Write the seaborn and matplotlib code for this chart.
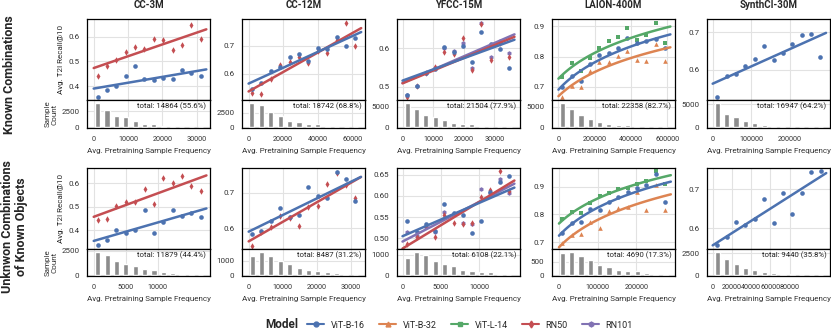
import matplotlib
matplotlib.use("Agg")
import matplotlib.pyplot as plt
from matplotlib.lines import Line2D
import numpy as np
import pandas as pd
import seaborn as sns

sns.set_style("whitegrid")
plt.rcParams['font.family'] = ['Roboto', 'DejaVu Sans']

datasets = ["CC-3M", "CC-12M", "YFCC-15M", "LAION-400M", "SynthCI-30M"]
row_titles = ["Known Combinations", "Unknwon Combinations\nof Known Objects"]
models = ["ViT-B-16", "ViT-B-32", "ViT-L-14", "RN50", "RN101"]

# ---- row 1: known combinations ----
cc3m_k_freq = [1170, 3890, 6620, 9350, 12070, 14800, 17500, 20300, 23000, 25700, 28400, 31200]
cc3m_k_b16 = [0.358, 0.384, 0.400, 0.440, 0.482, 0.430, 0.425, 0.435, 0.430, 0.467, 0.455, 0.442]
cc3m_k_rn50 = [0.442, 0.482, 0.506, 0.540, 0.557, 0.549, 0.591, 0.587, 0.546, 0.566, 0.647, 0.591]
cc3m_k_count = [3750, 2710, 1770, 1510, 990, 520, 470, 260, 160, 80, 50, 30]

cc12m_k_freq = [1900, 7400, 12800, 18300, 23700, 29100, 34600, 40000, 45500, 50900, 56400, 61800]
cc12m_k_b16 = [0.546, 0.569, 0.610, 0.626, 0.661, 0.670, 0.645, 0.692, 0.690, 0.733, 0.698, 0.727]
cc12m_k_rn50 = [0.531, 0.530, 0.581, 0.633, 0.644, 0.660, 0.638, 0.682, 0.676, 0.720, 0.782, 0.700]
cc12m_k_count = [4190, 3900, 2670, 1860, 1100, 870, 580, 470, 230, 100, 60, 30]

yfcc_k_freq = [1600, 4600, 7600, 10700, 13700, 16700, 19700, 22700, 25800, 28800, 31800, 34800]
yfcc_k_b16 = [0.480, 0.502, 0.537, 0.546, 0.604, 0.590, 0.607, 0.565, 0.641, 0.610, 0.597, 0.549]
yfcc_k_rn50 = [0.474, 0.501, 0.535, 0.552, 0.590, 0.584, 0.628, 0.544, 0.662, 0.569, 0.614, 0.577]
yfcc_k_rn101 = [0.479, 0.503, 0.537, 0.548, 0.602, 0.593, 0.614, 0.550, 0.665, 0.578, 0.619, 0.587]
yfcc_k_count = [5900, 4510, 2870, 2380, 1800, 1070, 740, 660, 250, 80, 30, 20]

laion_k_freq = [21000, 72000, 124000, 175000, 226000, 278000, 329000, 380000, 432000, 483000, 535000, 586000]
laion_k_b16 = [0.699, 0.737, 0.721, 0.776, 0.804, 0.811, 0.827, 0.863, 0.844, 0.852, 0.857, 0.830]
laion_k_b32 = [0.668, 0.703, 0.699, 0.754, 0.781, 0.781, 0.803, 0.820, 0.789, 0.784, 0.841, 0.786]
laion_k_l14 = [0.734, 0.778, 0.753, 0.795, 0.830, 0.852, 0.864, 0.893, 0.855, 0.871, 0.910, 0.846]
laion_k_count = [5900, 4500, 3030, 1890, 1310, 740, 570, 410, 330, 160, 60, 30]

synth_k_freq = [12000, 36200, 60400, 84600, 108800, 133000, 157200, 181400, 205600, 229800, 254000, 278200]
synth_k_b16 = [0.528, 0.582, 0.588, 0.609, 0.630, 0.664, 0.625, 0.646, 0.668, 0.693, 0.696, 0.633]
synth_k_count = [5290, 2940, 2130, 1400, 880, 440, 290, 150, 80, 40, 20, 10]

# ---- row 2: unknown combinations of known objects ----
cc3m_u_freq = [630, 2100, 3560, 5030, 6490, 7960, 9430, 10900, 12360, 13830, 15290, 16760]
cc3m_u_b16 = [0.338, 0.357, 0.401, 0.390, 0.400, 0.487, 0.387, 0.437, 0.488, 0.461, 0.475, 0.455]
cc3m_u_rn50 = [0.444, 0.448, 0.501, 0.519, 0.519, 0.574, 0.513, 0.620, 0.600, 0.631, 0.589, 0.566]
cc3m_u_count = [2370, 2080, 1470, 1120, 900, 640, 480, 350, 260, 160, 100, 60]

cc12m_u_freq = [1000, 3700, 6500, 9200, 12000, 14800, 17500, 20300, 23000, 25800, 28500, 31300]
cc12m_u_b16 = [0.584, 0.593, 0.621, 0.657, 0.631, 0.638, 0.715, 0.691, 0.684, 0.760, 0.740, 0.677]
cc12m_u_rn50 = [0.550, 0.589, 0.603, 0.633, 0.629, 0.607, 0.659, 0.663, 0.726, 0.755, 0.723, 0.684]
cc12m_u_count = [1350, 1630, 1350, 1000, 760, 520, 370, 300, 240, 130, 65, 30]

yfcc_u_freq = [640, 1840, 3050, 4250, 5450, 6660, 7860, 9060, 10260, 11470, 12670, 13870]
yfcc_u_b16 = [0.540, 0.514, 0.533, 0.518, 0.580, 0.560, 0.556, 0.513, 0.542, 0.610, 0.632, 0.648]
yfcc_u_rn50 = [0.487, 0.504, 0.530, 0.504, 0.554, 0.536, 0.534, 0.537, 0.598, 0.614, 0.660, 0.612]
yfcc_u_rn101 = [0.514, 0.506, 0.528, 0.514, 0.562, 0.557, 0.536, 0.534, 0.617, 0.608, 0.641, 0.608]
yfcc_u_count = [830, 1140, 985, 700, 530, 455, 260, 210, 135, 135, 45, 10]

laion_u_freq = [8500, 32700, 56900, 81000, 105000, 129500, 153700, 177900, 202000, 226000, 250500, 274700]
laion_u_b16 = [0.735, 0.770, 0.772, 0.818, 0.816, 0.846, 0.862, 0.882, 0.895, 0.907, 0.947, 0.844]
laion_u_b32 = [0.698, 0.728, 0.731, 0.773, 0.752, 0.812, 0.822, 0.828, 0.882, 0.816, 0.907, 0.816]
laion_u_l14 = [0.785, 0.810, 0.806, 0.840, 0.867, 0.876, 0.891, 0.895, 0.910, 0.922, 0.958, 0.909]
laion_u_count = [825, 870, 710, 560, 385, 290, 210, 175, 140, 80, 60, 35]

synth_u_freq = [4800, 14600, 24400, 34100, 43900, 53600, 63400, 73200, 82900, 92700, 102400, 112200]
synth_u_b16 = [0.557, 0.577, 0.615, 0.608, 0.623, 0.674, 0.612, 0.690, 0.636, 0.690, 0.744, 0.748]
synth_u_count = [2640, 1870, 1230, 810, 560, 390, 280, 180, 110, 50, 30, 20]

totals = [["total: 14864 (55.6%)", "total: 18742 (68.8%)", "total: 21504 (77.9%)",
           "total: 22358 (82.7%)", "total: 16947 (64.2%)"],
          ["total: 11879 (44.4%)", "total: 8487 (31.2%)", "total: 6108 (22.1%)",
           "total: 4690 (17.3%)", "total: 9440 (35.8%)"]]

x_ticks = [[[0, 10000, 20000, 30000], [0, 20000, 40000, 60000], [0, 10000, 20000, 30000],
            [0, 200000, 400000, 600000], [0, 100000, 200000]],
           [[0, 5000, 10000], [0, 10000, 20000, 30000], [0, 5000, 10000],
            [0, 100000, 200000], [0, 20000, 40000, 60000, 80000]]]
y_ticks = [[[0.4, 0.5, 0.6], [0.6, 0.7], [0.5, 0.6], [0.7, 0.8, 0.9], [0.6, 0.7]],
           [[0.4, 0.5, 0.6], [0.6, 0.7], [0.50, 0.55, 0.60, 0.65], [0.7, 0.8, 0.9], [0.6, 0.7]]]
count_ticks = [[2500, 2500, 5000, 5000, 5000], [2500, 1000, 1000, 500, 2500]]

panels = [
    [dict(freq=cc3m_k_freq, ys={"RN50": cc3m_k_rn50, "ViT-B-16": cc3m_k_b16}, count=cc3m_k_count,
          xlim=(-1950, 33900), ylim=(0.345, 0.671)),
     dict(freq=cc12m_k_freq, ys={"RN50": cc12m_k_rn50, "ViT-B-16": cc12m_k_b16}, count=cc12m_k_count,
          xlim=(-3800, 67300), ylim=(0.507, 0.796)),
     dict(freq=yfcc_k_freq, ys={"RN101": yfcc_k_rn101, "RN50": yfcc_k_rn50, "ViT-B-16": yfcc_k_b16},
          count=yfcc_k_count, xlim=(-1800, 38400), ylim=(0.466, 0.676)),
     dict(freq=laion_k_freq, ys={"ViT-B-32": laion_k_b32, "ViT-L-14": laion_k_l14, "ViT-B-16": laion_k_b16},
          count=laion_k_count, xlim=(-35500, 642000), ylim=(0.657, 0.924), curve=True),
     dict(freq=synth_k_freq, ys={"ViT-B-16": synth_k_b16}, count=synth_k_count,
          xlim=(-14600, 303000), ylim=(0.519, 0.736))],
    [dict(freq=cc3m_u_freq, ys={"RN50": cc3m_u_rn50, "ViT-B-16": cc3m_u_b16}, count=cc3m_u_count,
          xlim=(-1050, 18200), ylim=(0.321, 0.664)),
     dict(freq=cc12m_u_freq, ys={"RN50": cc12m_u_rn50, "ViT-B-16": cc12m_u_b16}, count=cc12m_u_count,
          xlim=(-1950, 34100), ylim=(0.541, 0.770)),
     dict(freq=yfcc_u_freq, ys={"RN101": yfcc_u_rn101, "RN50": yfcc_u_rn50, "ViT-B-16": yfcc_u_b16},
          count=yfcc_u_count, xlim=(-720, 15320), ylim=(0.475, 0.666)),
     dict(freq=laion_u_freq, ys={"ViT-B-32": laion_u_b32, "ViT-L-14": laion_u_l14, "ViT-B-16": laion_u_b16},
          count=laion_u_count, xlim=(-18000, 300000), ylim=(0.676, 0.967), curve=True),
     dict(freq=synth_u_freq, ys={"ViT-B-16": synth_u_b16}, count=synth_u_count,
          xlim=(-5900, 122000), ylim=(0.546, 0.755))],
]

palette = dict(zip(models, sns.color_palette("deep", 5)))
markers = {"ViT-B-16": "o", "ViT-B-32": "^", "ViT-L-14": "s", "RN50": "d", "RN101": "h"}

W, H = 831, 334
fig = plt.figure(figsize=(W / 100, H / 100), dpi=100)


def px_axes(x0, y0, x1, y1):
    # axes placed in pixel coordinates of the reference
    return fig.add_axes([x0 / W, 1 - y1 / H, (x1 - x0) / W, (y1 - y0) / H])


def style(ax):
    for s in ax.spines.values():
        s.set_color("black")
        s.set_linewidth(0.9)
    ax.tick_params(axis="x", labelsize=5.2, pad=2, colors="#333333")
    ax.tick_params(axis="y", labelsize=5.8, pad=2, colors="#333333")
    ax.grid(color="#e2e2e2", lw=0.8)


lefts = [87, 242, 397, 552, 707]
pw = 123
rows_px = [(19, 100, 128), (168, 249, 276)]
sk = {"s": 11, "linewidths": 0, "alpha": 1}

for r in range(2):
    top, sep, bot = rows_px[r]
    for c in range(5):
        p = panels[r][c]
        freq = p["freq"]
        step = freq[1] - freq[0]
        l = lefts[c]
        ax = px_axes(l, top, l + pw, sep)
        hx = px_axes(l, sep, l + pw, bot)

        # fitted lines run from 0 to just past the last bin
        line_hi = freq[-1] + 0.6 * step
        ax.set_xlim(0, line_hi)
        for m, y in p["ys"].items():
            df = pd.DataFrame({"freq": freq, "recall": y})
            if p.get("curve"):
                # saturating fit: recall ~ a + b*log(freq + shift)
                shift = freq[-1] / 3
                b, a = np.polyfit(np.log(df["freq"] + shift), df["recall"], 1)
                xs = np.linspace(0, line_hi, 80)
                sns.lineplot(x=xs, y=a + b * np.log(xs + shift), ax=ax, color=palette[m], lw=1.8)
                sns.regplot(data=df, x="freq", y="recall", ax=ax, fit_reg=False,
                            marker=markers[m], color=palette[m], scatter_kws=sk)
            else:
                sns.regplot(data=df, x="freq", y="recall", ax=ax, ci=None, truncate=False,
                            marker=markers[m], color=palette[m], scatter_kws=sk,
                            line_kws={"lw": 1.8})
        ax.set_xlim(p["xlim"])
        ax.set_ylim(p["ylim"])
        ax.set_xticks(x_ticks[r][c])
        ax.set_yticks(y_ticks[r][c])
        ax.tick_params(labelbottom=False)
        ax.set_xlabel("")
        ax.set_ylabel("Avg. T2I Recall@10" if c == 0 else "", fontsize=5.8, labelpad=3)
        style(ax)

        hx.bar(freq, p["count"], width=0.55 * step, color="#8c8c8c")
        hx.set_xlim(p["xlim"])
        hx.set_ylim(-0.03 * max(p["count"]) * 1.12, max(p["count"]) * 1.12)
        hx.set_xticks(x_ticks[r][c])
        hx.set_yticks([0, count_ticks[r][c]])
        hx.grid(axis="y", visible=False)
        hx.set_xlabel("Avg. Pretraining Sample Frequency", fontsize=5.8, labelpad=4, color="#333333")
        if c == 0:
            hx.set_ylabel("Sample\nCount", fontsize=5.8, labelpad=3, color="#333333")
        hx.text(0.97, 0.9, totals[r][c], transform=hx.transAxes, ha="right", va="top",
                fontsize=5.6, color="#222222")
        style(hx)

        if r == 0:
            fig.text((l + pw / 2) / W, 1 - 5 / H, datasets[c], ha="center", va="center",
                     fontsize=7, fontweight="bold")

fig.text(10 / W, 1 - 75 / H, row_titles[0], rotation=90, ha="center", va="center",
         fontsize=9, fontweight="bold")
fig.text(15 / W, 1 - 227 / H, row_titles[1], rotation=90, ha="center", va="center",
         fontsize=9, fontweight="bold", linespacing=1.1)

handles = [Line2D([], [], color=palette[m], marker=markers[m], markersize=3.5, lw=1.5) for m in models]
fig.legend(handles, models, loc="center", bbox_to_anchor=(470 / W, 1 - 325 / H), ncol=5,
           frameon=False, fontsize=6.5, handlelength=1.9, handletextpad=0.7, columnspacing=1.6)
fig.text(282 / W, 1 - 325 / H, "Model", ha="center", va="center", fontsize=8.5, fontweight="bold")

fig.savefig("out.png", dpi=100)
